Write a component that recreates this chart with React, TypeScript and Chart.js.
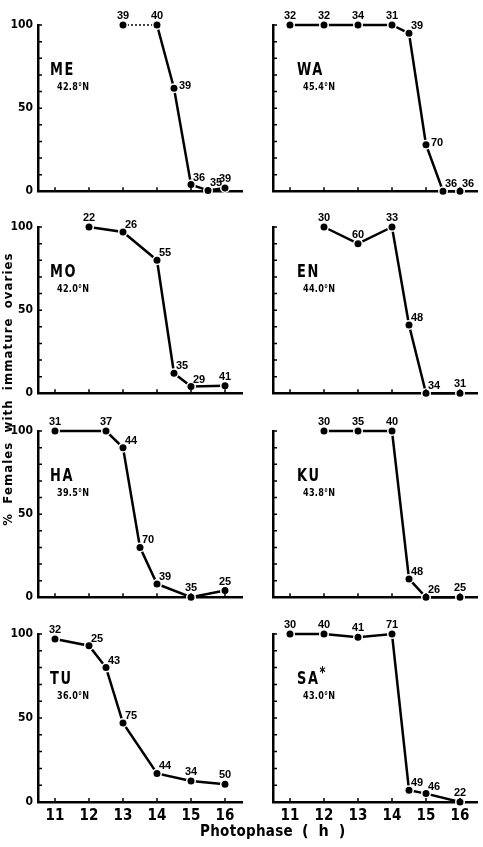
import React, { useEffect, useRef } from "react";
import { Chart, registerables } from "chart.js";
Chart.register(...registerables);

// ---------- data ----------
const hourTicks = [11, 12, 13, 14, 15, 16];
const percentLabels = [0, 50, 100];
const percentMinor = [10, 20, 30, 40, 50, 60, 70, 80, 90, 100];

const meX = [13, 14, 14.5, 15, 15.5, 16];
const meY = [100, 100, 62, 4, 0.5, 2];
const meN = [39, 40, 39, 36, 35, 39];

const waX = [11, 12, 13, 14, 14.5, 15, 15.5, 16];
const waY = [100, 100, 100, 100, 95, 28, 0, 0];
const waN = [32, 32, 34, 31, 39, 70, 36, 36];

const moX = [12, 13, 14, 14.5, 15, 16];
const moY = [100, 97, 80, 12, 4, 4.5];
const moN = [22, 26, 55, 35, 29, 41];

const enX = [12, 13, 14, 14.5, 15, 16];
const enY = [100, 90, 100, 41, 0, 0];
const enN = [30, 60, 33, 48, 34, 31];

const haX = [11, 12.5, 13, 13.5, 14, 15, 16];
const haY = [100, 100, 90, 30, 8, 0, 4];
const haN = [31, 37, 44, 70, 39, 35, 25];

const kuX = [12, 13, 14, 14.5, 15, 16];
const kuY = [100, 100, 100, 11, 0, 0];
const kuN = [30, 35, 40, 48, 26, 25];

const tuX = [11, 12, 12.5, 13, 14, 15, 16];
const tuY = [97, 93, 80, 47, 17, 12.5, 10.5];
const tuN = [32, 25, 43, 75, 44, 34, 50];

const saX = [11, 12, 13, 14, 14.5, 15, 16];
const saY = [100, 100, 98, 100, 7, 5, 0];
const saN = [30, 40, 41, 71, 49, 46, 22];

const siteNames = ["ME", "WA", "MO", "EN", "HA", "KU", "TU", "SA"];
const siteLatitudes = ["42.8°N", "45.4°N", "42.0°N", "44.0°N", "39.5°N", "43.8°N", "36.0°N", "43.0°N"];

const yTitle = "% Females with immature ovaries";
const xTitle = "Photophase";
const xUnit = "( h )";

// ---------- layout (not data) ----------
const ROW_TOP = [25, 227, 431, 634];
const PLOT_H = 168;
const TOP_PAD = 22;
const COLS = [
  { left: 0, width: 250, yW: 38, padR: 8 },
  { left: 240, width: 243, yW: 33, padR: 6 },
];
// label placement: a = above, r = upper right, R = right
const placements: Record<string, string[]> = {
  ME: ["a", "a", "R", "r", "r", "a"],
  WA: ["a", "a", "a", "a", "r", "R", "r", "r"],
  MO: ["a", "r", "r", "r", "r", "a"],
  EN: ["a", "a", "a", "r", "r", "a"],
  HA: ["a", "a", "r", "r", "r", "a", "a"],
  KU: ["a", "a", "a", "r", "r", "a"],
  TU: ["a", "r", "r", "r", "r", "a", "a"],
  SA: ["a", "a", "a", "a", "r", "r", "a"],
};

const seriesX = [meX, waX, moX, enX, haX, kuX, tuX, saX];
const seriesY = [meY, waY, moY, enY, haY, kuY, tuY, saY];
const seriesN = [meN, waN, moN, enN, haN, kuN, tuN, saN];

const CANVAS_FAMILY = "'DejaVu Sans Condensed', 'Liberation Sans', Arial, sans-serif";
const COND_FAMILY = "'DejaVu Sans Condensed', 'Liberation Sans', Arial, sans-serif";

function Panel({ idx }: { idx: number }) {
  const ref = useRef<HTMLCanvasElement | null>(null);
  const row = Math.floor(idx / 2);
  const colIdx = idx % 2;
  const col = COLS[colIdx];
  const isBottom = row === 3;
  const isLeft = colIdx === 0;
  const bottomH = isBottom ? 30 : 4;
  const height = TOP_PAD + PLOT_H + bottomH;
  const top = ROW_TOP[row] - TOP_PAD;
  const name = siteNames[idx];

  useEffect(() => {
    if (!ref.current) return;
    const xs = seriesX[idx];
    const ys = seriesY[idx];
    const ns = seriesN[idx];
    const place = placements[name];
    const data = xs.map((x, i) => ({ x, y: ys[i] }));

    const decor = {
      id: "decor" + idx,
      afterDraw(chart: any) {
        const { ctx, chartArea } = chart;
        const xs_ = chart.scales.x;
        const ys_ = chart.scales.y;
        ctx.save();
        ctx.strokeStyle = "#000";
        ctx.lineWidth = 1.5;
        ctx.beginPath();
        for (const v of percentMinor) {
          const py = ys_.getPixelForValue(v);
          ctx.moveTo(chartArea.left, py);
          ctx.lineTo(chartArea.left + 4, py);
        }
        const y0 = ys_.getPixelForValue(0);
        for (const h of hourTicks) {
          const px = xs_.getPixelForValue(h);
          ctx.moveTo(px, y0);
          ctx.lineTo(px, y0 - 4);
        }
        ctx.stroke();
        ctx.restore();
      },
      afterDatasetsDraw(chart: any) {
        const meta = chart.getDatasetMeta(0);
        const ctx = chart.ctx;
        ctx.save();
        ctx.font = "bold 11px 'Liberation Sans', Arial, sans-serif";
        ctx.fillStyle = "#000";
        ctx.textBaseline = "alphabetic";
        meta.data.forEach((pt: any, i: number) => {
          const txt = String(ns[i]);
          const p = place[i];
          if (p === "a") {
            ctx.textAlign = "center";
            ctx.fillText(txt, pt.x, pt.y - 6);
          } else if (p === "r") {
            ctx.textAlign = "left";
            ctx.fillText(txt, pt.x + 2, pt.y - 4);
          } else {
            ctx.textAlign = "left";
            ctx.fillText(txt, pt.x + 5, pt.y + 1);
          }
        });
        ctx.restore();
      },
    };

    const chart = new Chart(ref.current, {
      type: "line",
      data: {
        datasets: [
          {
            data,
            borderColor: "#000",
            borderWidth: 2.5,
            pointRadius: 4.25,
            pointBackgroundColor: "#000",
            pointBorderColor: "#fff",
            pointBorderWidth: 1.5,
            tension: 0,
            clip: false as any,
            segment: {
              borderDash: (c: any) => (name === "ME" && c.p0DataIndex === 0 ? [2, 2] : undefined),
              borderWidth: (c: any) => (name === "ME" && c.p0DataIndex === 0 ? 1.5 : undefined),
            },
          } as any,
        ],
      },
      options: {
        responsive: false,
        maintainAspectRatio: false,
        animation: false,
        layout: { padding: { top: TOP_PAD, right: col.padR, left: 0, bottom: 0 } },
        plugins: { legend: { display: false }, tooltip: { enabled: false }, title: { display: false } },
        scales: {
          x: {
            type: "linear",
            min: 10.5,
            max: 16.5,
            grid: { display: false, drawTicks: false },
            border: { display: true, color: "#000", width: 2.5 },
            ticks: {
              display: isBottom,
              color: "#000",
              padding: 5,
              font: { family: CANVAS_FAMILY, size: 15, weight: "bold" },
            },
            afterBuildTicks: (s: any) => {
              s.ticks = hourTicks.map((v) => ({ value: v }));
            },
            afterFit: (s: any) => {
              s.height = bottomH;
              s.paddingLeft = 0;
              s.paddingRight = 0;
              s.paddingTop = 0;
              s.paddingBottom = 0;
            },
          },
          y: {
            type: "linear",
            min: 0,
            max: 100,
            grid: { display: false, drawTicks: false },
            border: { display: true, color: "#000", width: 2.5 },
            ticks: {
              display: isLeft,
              color: "#000",
              padding: 5,
              font: { family: CANVAS_FAMILY, size: 12, weight: "bold" },
            },
            afterBuildTicks: (s: any) => {
              s.ticks = percentLabels.map((v) => ({ value: v }));
            },
            afterFit: (s: any) => {
              s.width = col.yW;
              s.paddingLeft = 0;
              s.paddingRight = 0;
              s.paddingTop = 0;
              s.paddingBottom = 0;
            },
          },
        },
      } as any,
      plugins: [decor as any],
    });
    return () => chart.destroy();
  }, [idx]);

  const lx = isLeft ? 50 : 297;
  const sx = isLeft ? 57 : 303;
  const T = ROW_TOP[row];
  return (
    <>
      <canvas
        ref={ref}
        width={col.width}
        height={height}
        style={{ position: "absolute", left: col.left, top, width: col.width, height }}
      />
      <div
        style={{
          position: "absolute",
          left: lx,
          top: T + 44 - 9,
          fontFamily: COND_FAMILY,
          fontWeight: "bold",
          fontSize: 18,
          lineHeight: "18px",
          letterSpacing: "2px",
          transform: "scaleX(0.8)",
          transformOrigin: "left center",
          whiteSpace: "nowrap",
        }}
      >
        {name}
        {name === "SA" ? <sup style={{ fontSize: 16, verticalAlign: "6px", lineHeight: 0 }}>*</sup> : null}
      </div>
      <div
        style={{
          position: "absolute",
          left: sx,
          top: T + 62 - 6,
          fontFamily: COND_FAMILY,
          fontWeight: "bold",
          fontSize: 10,
          lineHeight: "12px",
          letterSpacing: "0.3px",
          transform: "scaleX(0.9)",
          transformOrigin: "left center",
          whiteSpace: "nowrap",
        }}
      >
        {siteLatitudes[idx]}
      </div>
    </>
  );
}

export default function App() {
  return (
    <div style={{ position: "absolute", left: 0, top: 0, width: 483, height: 847, background: "#fff", overflow: "hidden" }}>
      {siteNames.map((_, i) => (
        <Panel key={i} idx={i} />
      ))}
      <div
        style={{
          position: "absolute",
          left: 8 - 160,
          top: 389 - 8,
          width: 320,
          height: 16,
          lineHeight: "16px",
          textAlign: "center",
          transform: "rotate(-90deg)",
          transformOrigin: "center center",
          fontFamily: COND_FAMILY,
          fontWeight: "bold",
          fontSize: 13,
          letterSpacing: "1.1px",
          wordSpacing: "4px",
          whiteSpace: "nowrap",
        }}
      >
        {yTitle}
      </div>
      <div
        style={{
          position: "absolute",
          left: 200,
          top: 831 - 9,
          fontFamily: COND_FAMILY,
          fontWeight: "bold",
          fontSize: 15,
          lineHeight: "18px",
          letterSpacing: "0.3px",
          whiteSpace: "nowrap",
        }}
      >
        {xTitle}
      </div>
      <div
        style={{
          position: "absolute",
          left: 302,
          top: 831 - 9,
          fontFamily: COND_FAMILY,
          fontWeight: "bold",
          fontSize: 16,
          lineHeight: "18px",
          wordSpacing: "5px",
          whiteSpace: "pre",
        }}
      >
        {xUnit}
      </div>
    </div>
  );
}
